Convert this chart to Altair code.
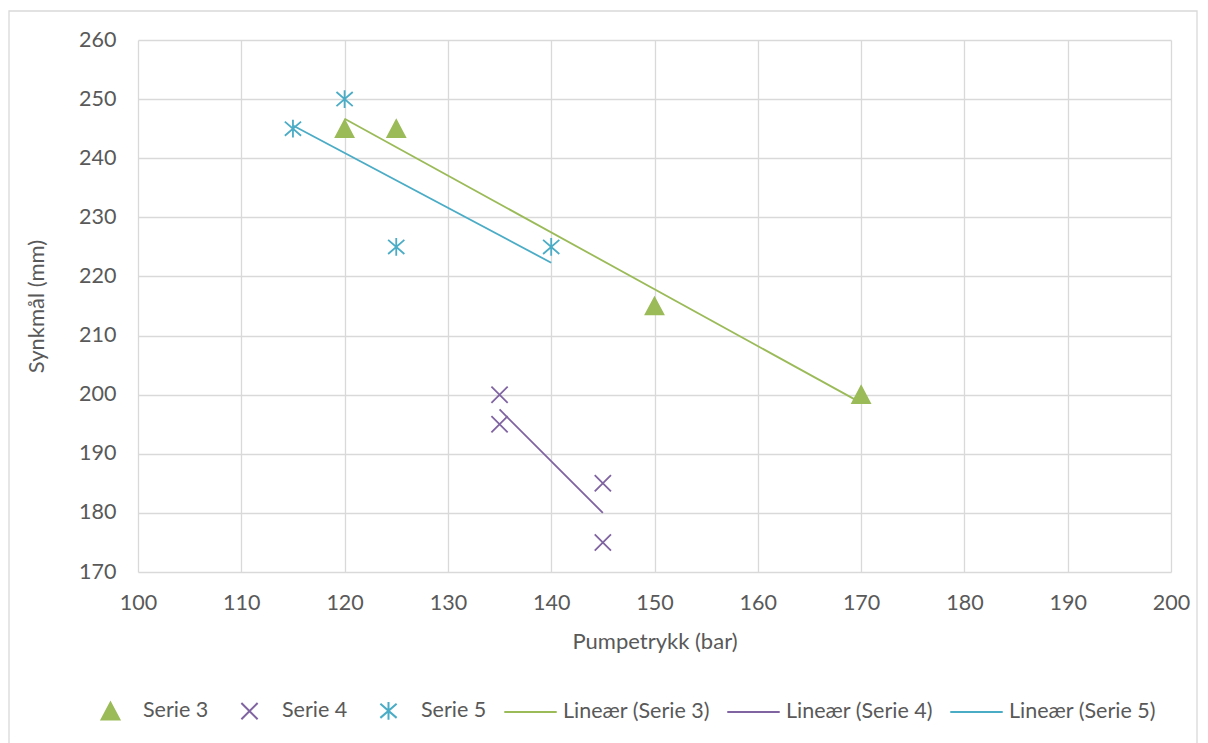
import altair as alt
import pandas as pd

# ---- data ----
series_names = ["Serie 3", "Serie 4", "Serie 5"]
s3_x = [120, 125, 150, 170]
s3_y = [245, 245, 215, 200]
s4_x = [135, 135, 145, 145]
s4_y = [200, 195, 185, 175]
s5_x = [115, 120, 125, 140]
s5_y = [245, 250, 225, 225]

x_ticks = [100, 110, 120, 130, 140, 150, 160, 170, 180, 190, 200]
y_ticks = [170, 180, 190, 200, 210, 220, 230, 240, 250, 260]

legend_labels = ["Serie 3", "Serie 4", "Serie 5",
                 "Lineær (Serie 3)", "Lineær (Serie 4)", "Lineær (Serie 5)"]

rows = []
for name, xs, ys in zip(series_names, [s3_x, s4_x, s5_x], [s3_y, s4_y, s5_y]):
    for xv, yv in zip(xs, ys):
        rows.append({"series": name, "x": xv, "y": yv})
df = pd.DataFrame(rows)

# ---- styles ----
FONT = "Lato"
TXT = "#595959"
GRID = "#D9D9D9"
colors = ["#9BBB59", "#8064A2", "#4BACC6", "#9BBB59", "#8064A2", "#4BACC6"]
# symbols drawn small inside a wide (~53px) symbol slot, like Excel's legend
TRI_PATH = "M0,-0.32L0.34,0.32L-0.34,0.32Z"
X_PATH = "M-0.31,-0.31L0.31,0.31M-0.31,0.31L0.31,-0.31"
AST_PATH = "M-0.31,-0.27L0.31,0.27M-0.31,0.27L0.31,-0.27M0,-0.34L0,0.34"
shapes = [TRI_PATH, X_PATH, AST_PATH, "stroke", "stroke", "stroke"]
SYM = 2750

W, H = 1033, 532
PL, PT = 138, 40

leg = alt.Legend(
    title=None, orient="none", direction="horizontal",
    legendX=-55, legendY=643,
    labelFont=FONT, labelFontSize=21.5, labelColor=TXT,
    labelOffset=5, columnPadding=13, symbolStrokeWidth=2,
    symbolSize=SYM,
)

xenc = alt.X("x:Q", scale=alt.Scale(domain=[100, 200], nice=False, zero=False),
             axis=alt.Axis(values=x_ticks, title="Pumpetrykk (bar)"))
yenc = alt.Y("y:Q", scale=alt.Scale(domain=[170, 260], nice=False, zero=False),
             axis=alt.Axis(values=y_ticks, title="Synkmål (mm)"))

color_enc = alt.Color("label:N", scale=alt.Scale(domain=legend_labels, range=colors), legend=leg)
stroke_enc = alt.Stroke("label:N", scale=alt.Scale(domain=legend_labels, range=colors), legend=leg)
shape_enc = alt.Shape("label:N", scale=alt.Scale(domain=legend_labels, range=shapes), legend=leg)

base = alt.Chart(df)

points = base.transform_calculate(label="datum.series").mark_point(
    filled=True, strokeWidth=1.8, opacity=1, size=SYM
).encode(x=xenc, y=yenc, color=color_enc, stroke=stroke_enc, shape=shape_enc)

lines = base.transform_regression(
    "x", "y", groupby=["series"]
).transform_calculate(
    label="'Lineær (' + datum.series + ')'"
).mark_line(strokeWidth=1.8).encode(x=xenc, y=yenc, color=color_enc)

frame = alt.Chart(alt.Data(values=[{}])).mark_rect(
    fillOpacity=0, stroke=GRID, strokeWidth=1.3
).encode(
    x=alt.value(9 - PL), x2=alt.value(1197 - PL),
    y=alt.value(11 - PT), y2=alt.value(760 - PT),
)

chart = alt.layer(frame, points, lines).properties(
    width=W, height=H,
    autosize=alt.AutoSizeParams(type="none"),
    padding={"left": PL, "top": PT, "right": 1208 - PL - W, "bottom": 743 - PT - H},
    background="white",
).configure_view(stroke=None).configure_axis(
    grid=True, gridColor=GRID, gridWidth=1.3, domain=False, ticks=False,
    labelFlush=False, labelOverlap=False,
    labelFont=FONT, labelFontSize=21.5, labelColor=TXT,
    titleFont=FONT, titleFontSize=22, titleColor=TXT, titleFontWeight="normal",
).configure_axisX(labelPadding=20, titlePadding=18).configure_axisY(
    labelPadding=22, titlePadding=30
)

chart.save("out.html", embed_options={"renderer": "svg", "actions": False})
